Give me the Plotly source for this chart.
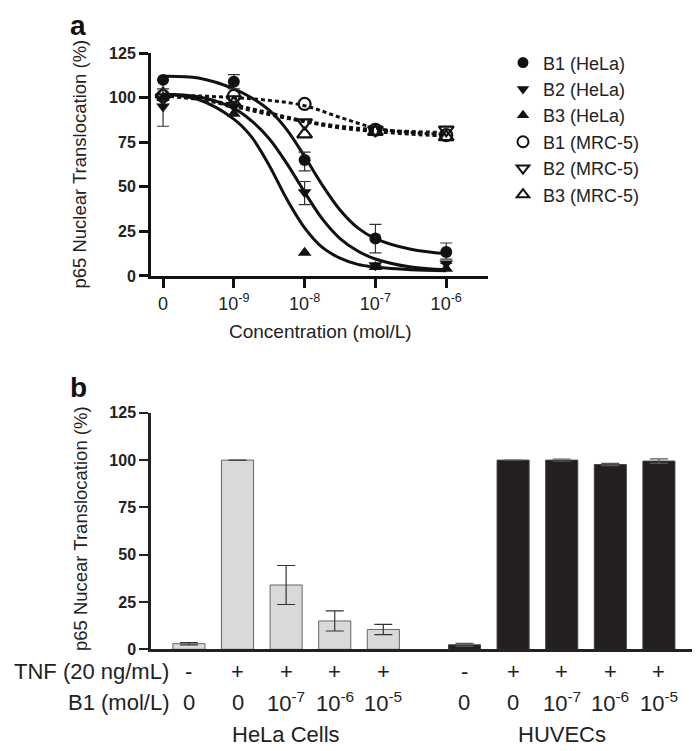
import plotly.graph_objects as go

W, H = 700, 751
FONT = "Liberation Sans, Arial, sans-serif"

# ---------------- Panel a data ----------------
conc_labels = ["0", "10<sup>-9</sup>", "10<sup>-8</sup>", "10<sup>-7</sup>", "10<sup>-6</sup>"]
conc_pos = [0, 1, 2, 3, 4]

b1_hela = [110, 109, 65, 21, 13.5]
b1_hela_err_up = [0, 4, 4.5, 8, 5]
b1_hela_err_dn = [0, 4, 6, 8, 4]
b2_hela = [95, 95, 47, 6, 7]
b2_hela_err_up = [10, 0, 6, 0, 0]
b2_hela_err_dn = [11, 0, 7, 0, 0]
b3_hela = [100, 91, 13, 5, 4]
b1_mrc = [101, 101, 96.5, 82, 79]
b2_mrc = [100, 99, 86, 82, 82]
b3_mrc = [102, 97, 79.6, 81, 78]

# fitted curves
fit_pos = [0, 0.5, 1, 1.25, 1.5, 1.75, 2, 2.25, 2.5, 2.75, 3, 3.5, 4]
fit_b1_hela = [112, 111, 105, 100, 93, 82, 67, 51, 37, 27, 21, 15, 12.5]
fit_b2_hela = [102, 100.5, 94, 87, 77, 63, 47, 32, 21, 14, 9.5, 5, 3.5]
fit_b3_hela = [102, 99, 88, 78, 62, 43, 27, 16, 10, 6.5, 5, 3.5, 3]
fit_pos_mrc = [0, 0.5, 1, 1.5, 2, 2.5, 3, 3.5, 4]
fit_b1_mrc = [101, 101, 100, 98.5, 95.5, 89, 83, 80.5, 79.5]
fit_b2_mrc = [101, 99.5, 96, 91.5, 87, 84, 82, 81, 80.5]
fit_b3_mrc = [101, 99, 95, 90.5, 86.5, 83, 81, 79.5, 78.5]

legend_names = ["B1 (HeLa)", "B2 (HeLa)", "B3 (HeLa)", "B1 (MRC-5)", "B2 (MRC-5)", "B3 (MRC-5)"]
legend_symbols = ["circle", "triangle-down", "triangle-up", "circle-open", "triangle-down-open", "triangle-up-open"]

# ---------------- Panel b data ----------------
tnf_labels = ["-", "+", "+", "+", "+"]
b1_labels = ["0", "0", "10<sup>-7</sup>", "10<sup>-6</sup>", "10<sup>-5</sup>"]
hela_vals = [3, 100, 34, 15, 10.5]
hela_err = [0.6, 0, 10.3, 5.3, 2.7]
huvec_vals = [2.4, 100, 100, 97.7, 99.5]
huvec_err = [0.8, 0, 0.6, 0.6, 1.2]
group_names = ["HeLa Cells", "HUVECs"]

GROUP_GAP = 5.67
hela_pos = [i for i in range(len(hela_vals))]
huvec_pos = [i + GROUP_GAP for i in range(len(huvec_vals))]

fig = go.Figure()

# fitted solid curves
for fy in [fit_b1_hela, fit_b2_hela, fit_b3_hela]:
    fig.add_trace(go.Scatter(x=fit_pos, y=fy, mode="lines", line=dict(color="#111", width=3, shape="spline"),
                             showlegend=False, hoverinfo="skip", xaxis="x", yaxis="y"))
# dashed MRC-5 curves
for fy in [fit_b1_mrc, fit_b2_mrc, fit_b3_mrc]:
    fig.add_trace(go.Scatter(x=fit_pos_mrc, y=fy, mode="lines",
                             line=dict(color="#111", width=3, dash="4px,3px", shape="spline"),
                             showlegend=False, hoverinfo="skip", xaxis="x", yaxis="y"))

def pts(y, sym, size, up=None, dn=None, lw=0):
    kw = {}
    if up is not None:
        kw["error_y"] = dict(type="data", array=up, arrayminus=dn, color="#333", thickness=1.2, width=6)
    fig.add_trace(go.Scatter(x=conc_pos, y=y, mode="markers",
                             marker=dict(symbol=sym, size=size, color="#111", line=dict(color="#111", width=lw)),
                             showlegend=False, xaxis="x", yaxis="y", **kw))

pts(b1_mrc, "circle-open", 12, lw=2.2)
pts(b2_mrc, "triangle-down-open", 13, lw=2.2)
pts(b3_mrc, "triangle-up-open", 13, lw=2.2)
pts(b1_hela, "circle", 12, b1_hela_err_up, b1_hela_err_dn)
pts(b2_hela, "triangle-down", 12, b2_hela_err_up, b2_hela_err_dn)
pts(b3_hela, "triangle-up", 12)

# legend entries
for name, sym in zip(legend_names, legend_symbols):
    fig.add_trace(go.Scatter(x=[None], y=[None], mode="markers", name=name,
                             marker=dict(symbol=sym, size=11, color="#111",
                                         line=dict(color="#111", width=2 if "open" in sym else 0)),
                             xaxis="x", yaxis="y"))

# bars panel b
fig.add_trace(go.Bar(x=hela_pos, y=hela_vals, width=0.66, marker=dict(color="#d9d9d9", line=dict(color="#666", width=1)),
                     error_y=dict(type="data", array=hela_err, color="#333", thickness=1.2, width=9),
                     showlegend=False, xaxis="x2", yaxis="y2"))
fig.add_trace(go.Bar(x=huvec_pos, y=huvec_vals, width=0.66, marker=dict(color="#231f20", line=dict(color="#444", width=1)),
                     error_y=dict(type="data", array=huvec_err, color="#555", thickness=1.2, width=9),
                     showlegend=False, xaxis="x2", yaxis="y2"))

tickfont = dict(family=FONT, size=16, color="#222", weight="bold")
fig.update_layout(
    width=W, height=H, margin=dict(l=0, r=0, t=0, b=0),
    paper_bgcolor="white", plot_bgcolor="white",
    font=dict(family=FONT, color="#222"),
    xaxis=dict(domain=[143 / W, 480 / W], range=[-0.17, 4.59], tickvals=conc_pos, ticktext=conc_labels,
               showline=True, linecolor="#111", linewidth=3, ticks="outside", ticklen=9, tickwidth=2.5,
               tickcolor="#111", showgrid=False, zeroline=False, anchor="y",
               tickfont=dict(family=FONT, size=18, color="#222")),
    yaxis=dict(domain=[1 - 266 / H, 1 - 38 / H], range=[0, 125], tickvals=[0, 25, 50, 75, 100, 125],
               showline=True, linecolor="#111", linewidth=3, ticks="outside", ticklen=9, tickwidth=2.5,
               tickcolor="#111", showgrid=False, zeroline=False, anchor="x", tickfont=tickfont),
    xaxis2=dict(domain=[143 / W, 1.0], range=[-0.78, 10.68], showticklabels=False, ticks="",
                showline=True, linecolor="#222", linewidth=3, showgrid=False, zeroline=False, anchor="y2"),
    yaxis2=dict(domain=[1 - 648 / H, 1 - 406 / H], range=[0, 125], tickvals=[0, 25, 50, 75, 100, 125],
                showline=True, linecolor="#222", linewidth=2.5, ticks="outside", ticklen=9, tickwidth=2,
                tickcolor="#222", showgrid=False, zeroline=False, anchor="x2", tickfont=tickfont),
    legend=dict(x=495 / W, y=1 - 29 / H, xanchor="left", yanchor="top", bgcolor="rgba(0,0,0,0)",
                font=dict(family=FONT, size=18, color="#222"), itemwidth=30, tracegroupgap=0),
    barmode="overlay",
)

ann = []
def A(text, x, y, size, xanchor="center", bold=False, angle=0, xref="paper"):
    ann.append(dict(text=text, x=x, y=y, xref=xref, yref="paper", xanchor=xanchor, yanchor="middle",
                    showarrow=False, textangle=angle,
                    font=dict(family=FONT, size=size, color="#111" if bold else "#222",
                              weight="bold" if bold else "normal")))

A("a", 70 / W, 1 - 10 / H, 28, bold=True)
A("b", 70 / W, 1 - 380 / H, 28, bold=True)
A("p65 Nuclear Translocation (%)", 72 / W, 1 - 152 / H, 18.5, angle=-90)
A("Concentration (mol/L)", 312 / W, 1 - 323 / H, 19)
A("p65 Nucear Translocation (%)", 72 / W, 1 - 525 / H, 18.5, angle=-90)
A("TNF (20 ng/mL)", 163 / W, 1 - 671 / H, 22, xanchor="right")
A("B1 (mol/L)", 163 / W, 1 - 702 / H, 22, xanchor="right")
for positions in (hela_pos, huvec_pos):
    for p, t, c in zip(positions, tnf_labels, b1_labels):
        A(t, p, 1 - 671 / H, 22, xref="x2")
        A(c, p, 1 - 702 / H, 22, xref="x2")
A(group_names[0], (hela_pos[0] + hela_pos[-1]) / 2, 1 - 735 / H, 22, xref="x2")
A(group_names[1], (huvec_pos[0] + huvec_pos[-1]) / 2, 1 - 735 / H, 22, xref="x2")
fig.update_layout(annotations=ann)

fig.write_html("out.html")
